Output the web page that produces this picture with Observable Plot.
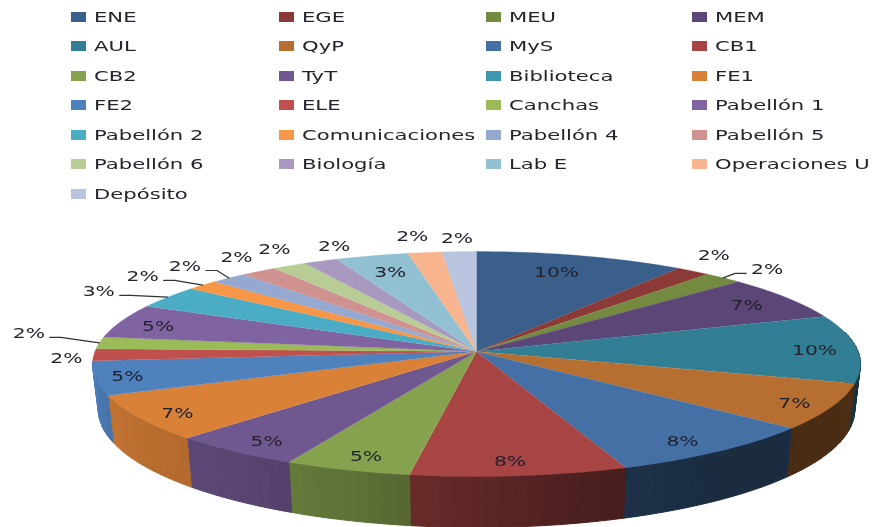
<!DOCTYPE html>
<html>
<head>
<meta charset="utf-8">
<script src="https://cdn.jsdelivr.net/npm/d3@7"></script>
<script src="https://cdn.jsdelivr.net/npm/@observablehq/plot@0.6"></script>
<style>
  html, body { margin: 0; padding: 0; background: #fff; }
  body { width: 874px; height: 527px; overflow: hidden; font-family: "DejaVu Sans", sans-serif; color: #24242f; }
  #legend { position: relative; height: 208px; box-sizing: border-box; padding: 2px 0 0 71px;
            display: grid; grid-template-columns: 208px 207px 206px 182px; grid-auto-rows: 29.5px; }
  .item { display: flex; align-items: center; white-space: nowrap; }
  .sw { width: 15px; height: 10px; flex: none; margin-right: 8px; }
  .lb { display: inline-block; font-size: 14px; transform: scaleX(1.51); transform-origin: left center; }
  svg { display: block; }
  #chart, #legend { filter: blur(0.4px); }
</style>
</head>
<body>
<div id="legend"></div>
<div id="chart"></div>
<script>
const categories = ["ENE","EGE","MEU","MEM","AUL","QyP","MyS","CB1","CB2","TyT","Biblioteca","FE1","FE2","ELE","Canchas","Pabellón 1","Pabellón 2","Comunicaciones","Pabellón 4","Pabellón 5","Pabellón 6","Biología","Lab E","Operaciones U","Depósito"];
const values = [9.8,1.6,1.8,6.5,9.8,6.6,8.2,8.2,4.8,5.0,0,6.5,4.9,1.7,1.7,4.9,3.3,1.5,1.7,1.7,1.6,1.6,3.4,1.6,1.6];
const colors = ["#3a5f8b","#8b3a38","#738a3f","#5b4677","#327f95","#b66f30","#4470a6","#a64543","#87a24f","#6f578f","#3f97b0","#da8138","#4f81bd","#c0504d","#9bbb59","#8064a2","#4bacc6","#f79646","#95a9d0","#d09291","#b8cd96","#a899c0","#92c0d3","#f8b48e","#b9c5de"];
// label placement: radius as a share of the pie radius, and an angular nudge in degrees
const labelRadius = [.805,1.18,1.156,.859,.887,.908,.893,.896,.894,.898,0,.906,.919,1.069,1.206,.886,1.2,1.195,1.182,1.163,1.18,1.135,.81,1.185,1.148];
const labelShift = [-1.2,-2.5,1.6,.5,.8,1.2,1.6,.7,-.6,-1.1,0,-1.4,-.3,-1.8,3.4,-1.3,-2.5,-2.1,-.5,1.7,2.4,5.1,0,-.6,0];
const leaders = [["MEU",-1],["Canchas",1],["Pabellón 2",1],["Comunicaciones",1],["Pabellón 4",1]];

// legend (HTML, above the SVG)
const legend = d3.select("#legend");
categories.forEach((c, i) => {
  const it = legend.append("div").attr("class", "item");
  it.append("span").attr("class", "sw").style("background", colors[i]);
  it.append("span").attr("class", "lb").text(c);
});

// perspective view of a disc
const k = 1 / 9, A = 381.6, B = 111.1, D = 45.3;
const rad = d => d * Math.PI / 180;
function rimTop(deg, r = 1) {
  const u = r * Math.sin(rad(deg)), v = r * Math.cos(rad(deg)), w = 1 + k * v;
  return {x: A * u / w, y: B * v / w};
}
function rimBottom(deg) {
  const p = rimTop(deg), w = 1 + k * Math.cos(rad(deg));
  return {x: p.x * 0.985, y: p.y - D / w};
}
const shade = d3.scaleLinear().domain([90,118,145,165,185,197,215,236,256,270]).range([.42,.40,.39,.45,.6,.7,.8,.85,.92,1]).clamp(true);
const darken = (c, f) => { const q = d3.rgb(c); return d3.rgb(q.r * f, q.g * f, q.b * f).formatHex(); };

const total = d3.sum(values);
let acc = 0;
const slices = categories.map((name, i) => {
  const start = acc / total * 360; acc += values[i];
  const end = acc / total * 360;
  return {name, i, start, end, mid: (start + end) / 2, value: values[i], color: colors[i]};
}).filter(d => d.value > 0);

// side wall, cut into narrow strips so its shade can follow the angle
const wall = [];
for (const s of slices) {
  const a0 = Math.max(s.start, 80), a1 = Math.min(s.end, 265);
  if (a1 <= a0) continue;
  const n = Math.max(1, Math.ceil((a1 - a0) / 2));
  for (let j = 0; j < n; j++) {
    const t0 = a0 + (a1 - a0) * j / n, t1 = a0 + (a1 - a0) * (j + 1) / n;
    const col = darken(s.color, shade((t0 + t1) / 2));
    const id = s.name + j;
    for (const p of [rimTop(t0), rimTop(t1), rimBottom(t1), rimBottom(t0), rimTop(t0)]) wall.push({...p, id, col});
  }
}
// top face
const face = [];
for (const s of slices) {
  const n = Math.max(2, Math.ceil(s.end - s.start));
  face.push({x: 0, y: 0, id: s.name, col: s.color});
  for (let j = 0; j <= n; j++) face.push({...rimTop(s.start + (s.end - s.start) * j / n), id: s.name, col: s.color});
}
// percentage labels
const labels = slices.map(s => ({...rimTop(s.mid + labelShift[s.i], labelRadius[s.i]), name: s.name, text: Math.round(s.value) + "%"}));
// leader lines
const leaderPts = leaders.flatMap(([name, dir]) => {
  const l = labels.find(d => d.name === name), s = slices.find(d => d.name === name);
  return [
    {x: l.x + dir * 21, y: l.y - 4, name},
    {x: l.x + dir * 32, y: l.y - 4, name},
    {...rimTop(s.mid), name}
  ];
});

const plot = Plot.plot({
  width: 874, height: 319,
  marginTop: 0, marginRight: 0, marginBottom: 0, marginLeft: 0,
  x: {domain: [-476, 398], range: [0, 874], axis: null},
  y: {domain: [143, -176], range: [0, 319], axis: null},
  color: {type: "identity"},
  style: {background: "transparent"},
  marks: [
    Plot.line(wall, {x: "x", y: "y", z: "id", fill: "col", stroke: "col", strokeWidth: 1}),
    Plot.line(face, {x: "x", y: "y", z: "id", fill: "col", stroke: "col", strokeWidth: 0.3}),
    Plot.line(leaderPts, {x: "x", y: "y", z: "name", stroke: "#333", strokeWidth: 1.2}),
    Plot.text(labels, {x: "x", y: "y", text: "text", fontSize: 14, fontFamily: "DejaVu Sans", fill: "#22222e"})
  ]
});
document.getElementById("chart").appendChild(plot);
plot.querySelectorAll("text").forEach(t => {
  t.setAttribute("textLength", t.getComputedTextLength() * 1.45);
  t.setAttribute("lengthAdjust", "spacingAndGlyphs");
});
</script>
</body>
</html>
